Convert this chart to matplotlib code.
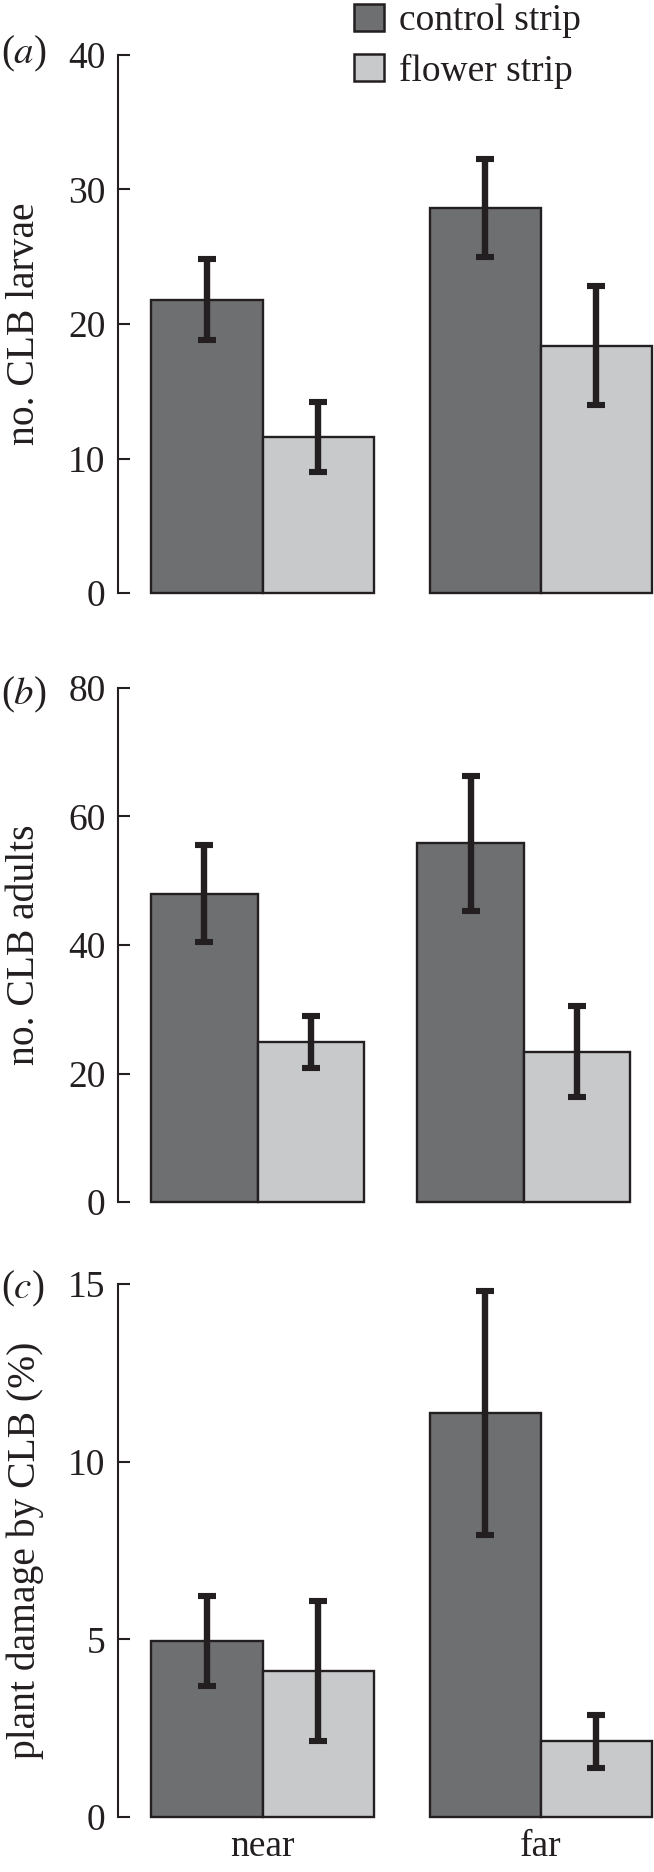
import matplotlib
matplotlib.use("Agg")
import matplotlib.pyplot as plt
import numpy as np
from matplotlib.patches import Patch

plt.rcParams['font.family'] = ['Liberation Serif', 'DejaVu Serif']
plt.rcParams['mathtext.fontset'] = 'stix'

groups = ["near", "far"]
series = ["control strip", "flower strip"]

larvae_control = [21.8, 28.6]
larvae_control_err = [3.0, 3.65]
larvae_flower = [11.6, 18.4]
larvae_flower_err = [2.6, 4.45]

adults_control = [48.0, 55.8]
adults_control_err = [7.6, 10.45]
adults_flower = [24.9, 23.4]
adults_flower_err = [4.1, 7.1]

damage_control = [4.95, 11.37]
damage_control_err = [1.26, 3.44]
damage_flower = [4.10, 2.13]
damage_flower_err = [1.97, 0.75]

panel_letters = ["a", "b", "c"]
ylabels = ["no. CLB larvae", "no. CLB adults", "plant damage by CLB (%)"]
yticks = [[0, 10, 20, 30, 40], [0, 20, 40, 60, 80], [0, 5, 10, 15]]

C_DARK = "#6e6f71"
C_LIGHT = "#c8c9cb"
C_LINE = "#231f20"
FS = 27

W, H = 654, 1872
fig = plt.figure(figsize=(W / 100, H / 100), dpi=100)

# axes boxes in pixels (top, bottom)
boxes = [(55, 593), (688, 1202), (1284, 1817)]
xlims = [(-0.52, 1.407), (-0.524, 1.489), (-0.52, 1.407)]
label_y = [54, 695, 1289]
left = 118

data = [
    (larvae_control, larvae_control_err, larvae_flower, larvae_flower_err),
    (adults_control, adults_control_err, adults_flower, adults_flower_err),
    (damage_control, damage_control_err, damage_flower, damage_flower_err),
]

w = 0.4
x = np.arange(len(groups))
for i, ((top, bot), (c, ce, f, fe)) in enumerate(zip(boxes, data)):
    ax = fig.add_axes([left / W, 1 - bot / H, (W - left) / W, (bot - top) / H])
    ax.bar(x - w / 2, c, w, color=C_DARK, edgecolor=C_LINE, linewidth=1.7, clip_on=False, zorder=2)
    ax.bar(x + w / 2, f, w, color=C_LIGHT, edgecolor=C_LINE, linewidth=1.7, clip_on=False, zorder=2)
    for xs, v, e in ((x - w / 2, c, ce), (x + w / 2, f, fe)):
        eb = ax.errorbar(xs, v, yerr=e, fmt='none', ecolor=C_LINE, elinewidth=4.6,
                         capsize=6.5, capthick=4.4, zorder=3, clip_on=False)
        for ln in eb[2]:
            ln.set_capstyle('butt')
    ax.set_xlim(*xlims[i])
    ax.set_ylim(yticks[i][0], yticks[i][-1])
    ax.set_yticks(yticks[i])
    ax.tick_params(axis='y', direction='in', length=8.6, width=1.5, color=C_LINE,
                   labelsize=FS, labelcolor=C_LINE, pad=9)
    for s in ("top", "right", "bottom"):
        ax.spines[s].set_visible(False)
    ax.spines["left"].set_linewidth(1.5)
    ax.spines["left"].set_color(C_LINE)
    ax.patch.set_visible(False)
    if i == 2:
        ax.set_xticks(x)
        ax.set_xticklabels(groups)
        ax.tick_params(axis='x', length=0, labelsize=FS, labelcolor=C_LINE, pad=9)
    else:
        ax.set_xticks([])
    fig.text(25 / W, 1 - ((top + bot) / 2) / H, ylabels[i], rotation=90, ha='center',
             va='center', fontsize=28.5, color=C_LINE)
    fig.text(1 / W, 1 - label_y[i] / H, "(" + r"$\mathit{" + panel_letters[i] + "}$" + ")",
             ha='left', va='center', fontsize=28, color=C_LINE)

handles = [Patch(facecolor=C_DARK, edgecolor=C_LINE, linewidth=1.8),
           Patch(facecolor=C_LIGHT, edgecolor=C_LINE, linewidth=1.8)]
fig.legend(handles, series, loc='upper left', bbox_to_anchor=(354 / W, 1 - 4 / H),
           frameon=False, fontsize=FS, handlelength=0.8, handleheight=0.72,
           handletextpad=0.4, labelspacing=0.4, borderpad=0, borderaxespad=0,
           labelcolor=C_LINE)

fig.savefig("out.png", dpi=100)
